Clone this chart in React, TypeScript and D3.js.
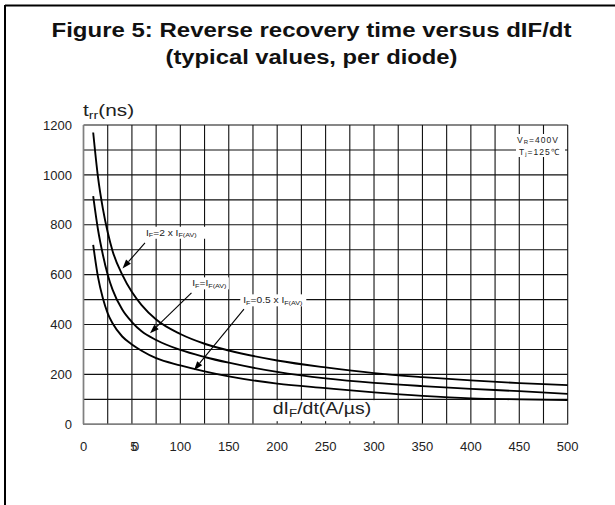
import React from "react";
import * as d3 from "d3";

const DIDT = [10, 15, 20, 25, 30, 40, 50, 60, 75, 100, 125, 150, 200, 250, 300, 350, 400, 450, 500];
const TRR_2X = [1170, 990, 865, 770, 695, 600, 530, 478, 420, 362, 323, 296, 256, 228, 205, 189, 176, 165, 157];
const TRR_1X = [915, 780, 680, 600, 540, 460, 410, 373, 338, 298, 270, 247, 210, 184, 166, 153, 142, 133, 122];
const TRR_05X = [719, 590, 505, 445, 405, 352, 320, 295, 265, 236, 212, 192, 163, 145, 128, 114, 104, 100, 97];

const X_TICKS = [0, 50, 100, 150, 200, 250, 300, 350, 400, 450, 500];
const X_TICK_LABELS = ["0", "50", "100", "150", "200", "250", "300", "350", "400", "450", "500"];
const Y_TICKS = [0, 200, 400, 600, 800, 1000, 1200];
const X_GRID = d3.range(0, 501, 25);
const Y_GRID = d3.range(0, 1201, 100);

const TITLE_1 = "Figure 5: Reverse recovery time versus dIF/dt";
const TITLE_2 = "(typical values, per diode)";

// annotations in data units: [label x, label y, arrow start x, y, arrow end x, y]
const ANNOTATIONS = [
  { main: "2 x I", start: [64.5, 756], from: [63.5, 727], to: [40.3, 625] },
  { main: "I", start: [112.3, 553], from: [111.5, 527], to: [68.7, 365] },
  { main: "0.5 x I", start: [165, 485], from: [165.7, 462], to: [114.1, 217] },
];

const FONT = "'Liberation Sans', Arial, Helvetica, sans-serif";

export default function App() {
  const W = 615, H = 505;
  const x = d3.scaleLinear().domain([0, 500]).range([83.5, 567.7]);
  const y = d3.scaleLinear().domain([0, 1200]).range([424.3, 125]);
  const line = d3
    .line<number>()
    .x((_, i) => x(DIDT[i]))
    .y((d) => y(d))
    .curve(d3.curveMonotoneX);

  const series = [TRR_2X, TRR_1X, TRR_05X];

  const arrow = (a: any, key: number) => {
    const x1 = x(a.from[0]), y1 = y(a.from[1]), x2 = x(a.to[0]), y2 = y(a.to[1]);
    const ang = Math.atan2(y2 - y1, x2 - x1);
    const L = 9, Wd = 3.2;
    const bx = x2 - L * Math.cos(ang), by = y2 - L * Math.sin(ang);
    const px = -Math.sin(ang) * Wd, py = Math.cos(ang) * Wd;
    return (
      <g key={key}>
        <line x1={x1} y1={y1} x2={bx} y2={by} stroke="#000" strokeWidth={1.1} />
        <polygon points={`${x2},${y2} ${bx + px},${by + py} ${bx - px},${by - py}`} fill="#000" />
      </g>
    );
  };

  const label = (a: any, key: number) => {
    const lx = x(a.start[0]), ly = y(a.start[1]);
    const isPlain = a.main === "I";
    return (
      <g key={key} transform={`translate(${lx},${ly}) scale(1.2,1)`}>
        <rect x={-2.5} y={-9} width={isPlain ? 33 : a.main.length > 4 ? 55 : 48} height={12} fill="#fff" />
        <text x={0} y={0} fontSize={8.5} fontFamily={FONT} fill="#222">
          I<tspan fontSize={6} dy={1.5}>F</tspan>
          <tspan dy={-1.5}>={a.main}</tspan>
          <tspan fontSize={6} dy={1.5}>F(AV)</tspan>
        </text>
      </g>
    );
  };

  return (
    <div style={{ position: "absolute", left: 0, top: 0 }}>
      <svg width={W} height={H} style={{ display: "block", background: "#fff" }}>
        <rect x={0} y={0} width={W} height={H} fill="#fff" />
        {/* frame */}
        <line x1={5} y1={5.5} x2={W} y2={5.5} stroke="#000" strokeWidth={2} />
        <line x1={5} y1={5} x2={5} y2={H} stroke="#000" strokeWidth={2} />

        {/* title */}
        <text x={311.5} y={36.5} textAnchor="middle" fontFamily={FONT} fontWeight="bold" fontSize={19.5}
          textLength={520} lengthAdjust="spacingAndGlyphs" fill="#111">{TITLE_1}</text>
        <text x={311.5} y={64} textAnchor="middle" fontFamily={FONT} fontWeight="bold" fontSize={19.5}
          textLength={292} lengthAdjust="spacingAndGlyphs" fill="#111">{TITLE_2}</text>

        {/* grid */}
        {X_GRID.map((v) => (
          <line key={"gx" + v} x1={x(v)} x2={x(v)} y1={y(1200)} y2={y(0)} stroke="#111" strokeWidth={1.1} />
        ))}
        {Y_GRID.map((v) => (
          <line key={"gy" + v} x1={x(0)} x2={x(500)} y1={y(v)} y2={y(v)} stroke="#111" strokeWidth={1.1} />
        ))}
        <line x1={x(0)} x2={x(0)} y1={y(1200)} y2={y(0)} stroke="#808080" strokeWidth={1.6} />
        <line x1={x(0)} x2={x(500)} y1={y(0)} y2={y(0)} stroke="#808080" strokeWidth={1.6} />

        {/* curves */}
        {series.map((s, i) => (
          <path key={"s" + i} d={line(s) || ""} fill="none" stroke="#000" strokeWidth={1.9} />
        ))}

        {/* y ticks */}
        {Y_TICKS.map((v) => (
          <text key={"yt" + v} x={72} y={y(v) + 4.7} textAnchor="end" fontFamily={FONT} fontSize={13} fill="#222">{v}</text>
        ))}
        {/* x ticks */}
        {X_TICKS.map((v, i) => (
          <text key={"xt" + v} x={x(v)} y={451} textAnchor="middle" fontFamily={FONT} fontSize={13} fill="#222"
            letterSpacing={v === 50 ? -5.5 : 0}>{X_TICK_LABELS[i]}</text>
        ))}

        {/* y axis title */}
        <g transform={`translate(83,116) scale(1.3,1)`}>
          <text x={0} y={0} fontFamily={FONT} fontSize={16} fill="#222">
            t<tspan fontSize={11} dy={3}>rr</tspan><tspan dy={-3}>(ns)</tspan>
          </text>
        </g>

        {/* x axis title with white box */}
        <rect x={263} y={400.2} width={117} height={21} fill="#fff" />
        <g transform={`translate(272.7,414.3) scale(1.22,1)`}>
          <text x={0} y={0} fontFamily={FONT} fontSize={16} fill="#222">
            dI<tspan fontSize={11} dy={3}>F</tspan><tspan dy={-3}>/dt(A/µs)</tspan>
          </text>
        </g>

        {/* conditions */}
        <rect x={516} y={134} width={49} height={23} fill="#fff" />
        <text x={517} y={143.3} fontFamily={FONT} fontSize={8.5} letterSpacing={1} fill="#222">
          V<tspan fontSize={6} dy={1}>R</tspan><tspan dy={-1}>=400V</tspan>
        </text>
        <text x={519} y={155} fontFamily={FONT} fontSize={8.5} letterSpacing={1} fill="#222">
          T<tspan fontSize={6} dy={1}>j</tspan><tspan dy={-1}>=125℃</tspan>
        </text>

        {/* annotations */}
        {ANNOTATIONS.map((a, i) => label(a, i))}
        {ANNOTATIONS.map((a, i) => arrow(a, i))}
      </svg>
    </div>
  );
}
